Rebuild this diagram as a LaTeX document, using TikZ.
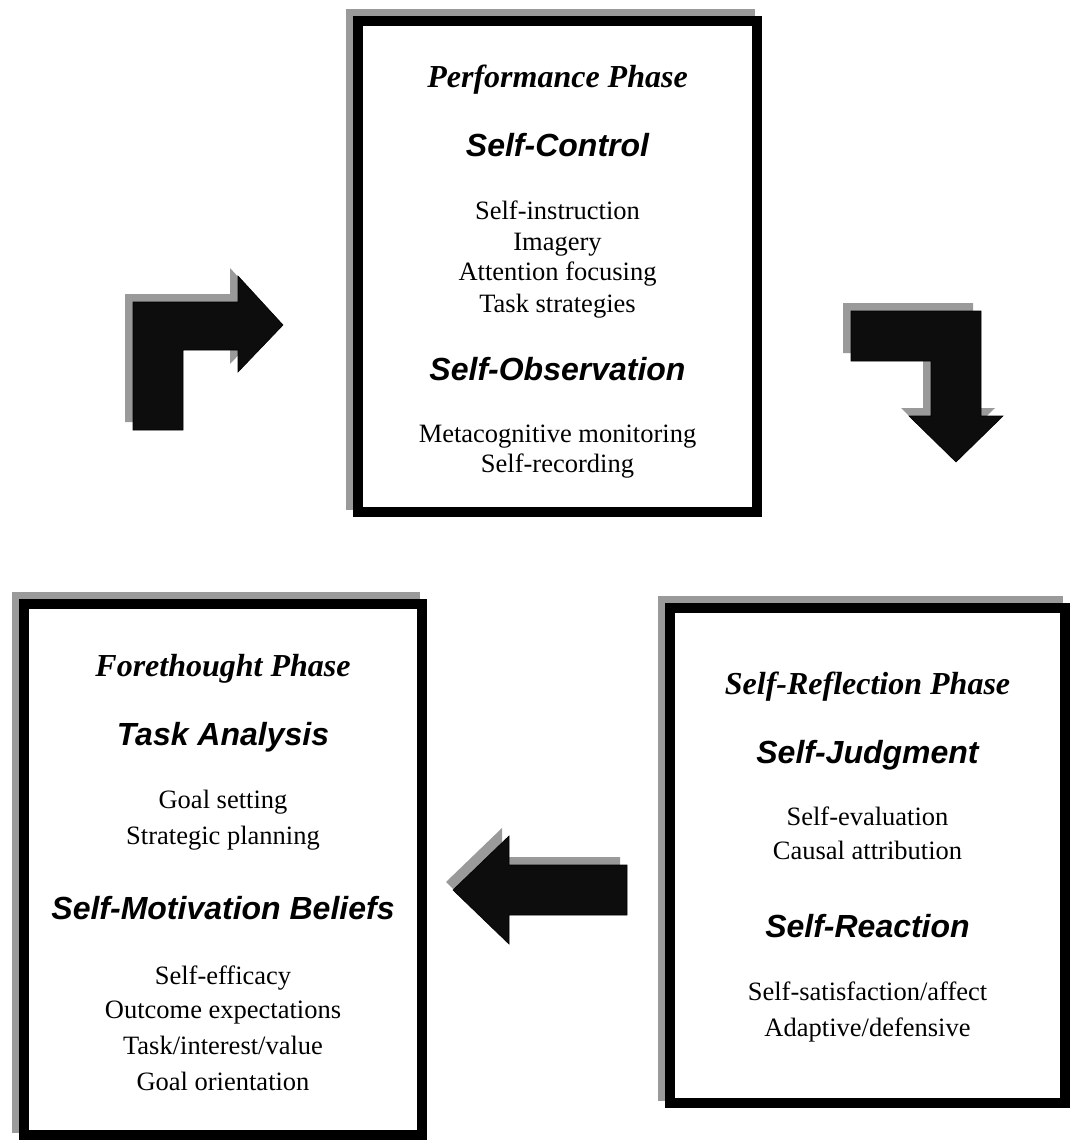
\documentclass[tikz,border=0pt]{standalone}
\usepackage{fontspec}
\setmainfont{Liberation Serif}
\newfontfamily\headfont{Liberation Sans}
\usetikzlibrary{backgrounds}
\definecolor{shadowgray}{HTML}{9A9A9A}
\definecolor{arrowblack}{HTML}{0D0D0D}
\begin{document}
\begin{tikzpicture}[x=1pt,y=-1pt,
  phasebox/.style={draw=black, line width=10pt, fill=white, inner sep=0pt, outer sep=0pt},
  phasetitle/.style={anchor=base, inner sep=0pt, font=\fontsize{32}{32}\selectfont\bfseries\itshape},
  subhead/.style={anchor=base, inner sep=0pt, font=\headfont\fontsize{32}{32}\selectfont\bfseries\itshape},
  item/.style={anchor=base, inner sep=0pt, font=\fontsize{26.5}{26.5}\selectfont},
  blockarrow/.style={fill=arrowblack, draw=black, line width=0.6pt, line join=miter},
  blockshadow/.style={fill=shadowgray}]
\useasboundingbox (0,0) rectangle (1070,1140);

% the three phase boxes
\node[phasebox, minimum width=399pt, minimum height=491pt] (perf) at (557.5,266.5) {};
\node[phasebox, minimum width=398pt, minimum height=531pt] (fore) at (223,869.5) {};
\node[phasebox, minimum width=395pt, minimum height=495pt] (refl) at (867.5,855.5) {};

% offset grey shadows behind the boxes
\begin{scope}[on background layer]
  \foreach \b in {perf,fore,refl}
    \fill[shadowgray] ([shift={(-12,-12)}]\b.north west) rectangle ([shift={(-2,-2)}]\b.south east);
\end{scope}

% Performance phase
\node[phasetitle] (perfT) at (557.5,87) {Performance Phase};
\node[subhead] (perfH1) at (557.5,156) {Self-Control};
\node[item] (perfA) at (557.5,219) {Self-instruction};
\node[item] (perfB) at (557.5,250) {Imagery};
\node[item] (perfC) at (557.5,280) {Attention focusing};
\node[item] (perfD) at (557.5,312) {Task strategies};
\node[subhead] (perfH2) at (557.5,380) {Self-Observation};
\node[item] (perfE) at (557.5,442) {Metacognitive monitoring};
\node[item] (perfF) at (557.5,472) {Self-recording};

% Forethought phase
\node[phasetitle] (foreT) at (223,676) {Forethought Phase};
\node[subhead] (foreH1) at (223,745) {Task Analysis};
\node[item] (foreA) at (223,808) {Goal setting};
\node[item] (foreB) at (223,844) {Strategic planning};
\node[subhead] (foreH2) at (223,919) {Self-Motivation Beliefs};
\node[item] (foreC) at (223,984) {Self-efficacy};
\node[item] (foreD) at (223,1018) {Outcome expectations};
\node[item] (foreE) at (223,1054) {Task/interest/value};
\node[item] (foreF) at (223,1090) {Goal orientation};

% Self-reflection phase
\node[phasetitle] (reflT) at (867.5,694) {Self-Reflection Phase};
\node[subhead] (reflH1) at (867.5,763) {Self-Judgment};
\node[item] (reflA) at (867.5,825) {Self-evaluation};
\node[item] (reflB) at (867.5,859) {Causal attribution};
\node[subhead] (reflH2) at (867.5,937) {Self-Reaction};
\node[item] (reflC) at (867.5,1000) {Self-satisfaction/affect};
\node[item] (reflD) at (867.5,1036) {Adaptive/defensive};

% block arrows of the cycle, each with its grey offset shadow
\fill[blockshadow, shift={(-8,-8)}] (133,430) -- (133,302) -- (238,302) -- (238,276) -- (283,325) -- (238,372) -- (238,350) -- (183,350) -- (183,430) -- cycle;
\filldraw[blockarrow] (133,430) -- (133,302) -- (238,302) -- (238,276) -- (283,325) -- (238,372) -- (238,350) -- (183,350) -- (183,430) -- cycle;

\fill[blockshadow, shift={(-8,-8)}] (851,311) -- (981,311) -- (981,416) -- (1003,416) -- (956,462) -- (909,416) -- (931,416) -- (931,361) -- (851,361) -- cycle;
\filldraw[blockarrow] (851,311) -- (981,311) -- (981,416) -- (1003,416) -- (956,462) -- (909,416) -- (931,416) -- (931,361) -- (851,361) -- cycle;

\fill[blockshadow, shift={(-7,-8)}] (627,865) -- (509,865) -- (509,836) -- (453,890) -- (509,944) -- (509,915) -- (627,915) -- cycle;
\filldraw[blockarrow] (627,865) -- (509,865) -- (509,836) -- (453,890) -- (509,944) -- (509,915) -- (627,915) -- cycle;
\end{tikzpicture}
\end{document}
